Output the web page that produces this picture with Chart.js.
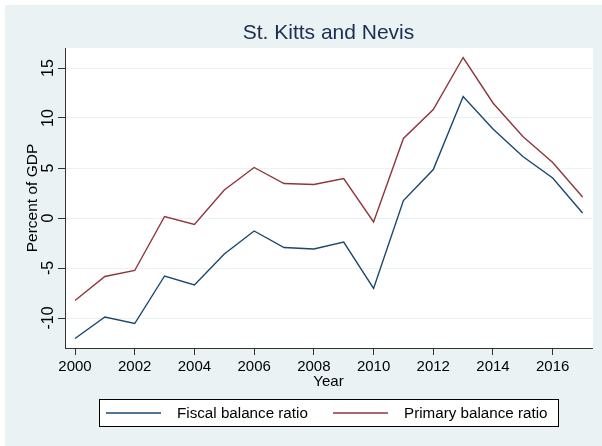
<!DOCTYPE html>
<html>
<head>
<meta charset="utf-8">
<script src="https://cdn.jsdelivr.net/npm/chart.js@4.4.0/dist/chart.umd.min.js"></script>
<style>
html, body { margin: 0; padding: 0; background: #fff; }
#wrap { width: 602px; height: 446px; }
</style>
</head>
<body>
<div id="wrap"><canvas id="chart" width="602" height="446"></canvas></div>
<script>
const titleText = 'St. Kitts and Nevis';
const years = [2000, 2001, 2002, 2003, 2004, 2005, 2006, 2007, 2008, 2009, 2010, 2011, 2012, 2013, 2014, 2015, 2016, 2017];
const fiscalBalance = [-12.05, -9.9, -10.55, -5.8, -6.7, -3.6, -1.3, -2.95, -3.1, -2.4, -7.05, 1.75, 4.85, 12.15, 8.9, 6.15, 4.0, 0.5];
const primaryBalance = [-8.25, -5.85, -5.25, 0.15, -0.65, 2.8, 5.05, 3.45, 3.35, 3.95, -0.4, 7.95, 10.85, 16.05, 11.5, 8.15, 5.55, 2.1];
const xTicks = [2000, 2002, 2004, 2006, 2008, 2010, 2012, 2014, 2016];
const yTicks = [-10, -5, 0, 5, 10, 15];

const navy = '#1a476f';
const maroon = '#90353b';
const bgColor = '#eaf2f3';
const fontFamily = '"Liberation Sans", Arial, sans-serif';

Chart.defaults.font.family = fontFamily;

function toPoints(vals) {
    return years.map((y, i) => ({ x: y, y: vals[i] }));
}

// stata-like frame: background, title, rotated y labels, boxed legend
const stataFrame = {
    id: 'stataFrame',
    beforeDraw(chart) {
        const { ctx, chartArea: a } = chart;
        ctx.save();
        ctx.fillStyle = '#ffffff';
        ctx.fillRect(0, 0, chart.width, chart.height);
        ctx.fillStyle = bgColor;
        ctx.fillRect(5, 5, chart.width - 5, chart.height - 5);
        ctx.fillStyle = '#ffffff';
        ctx.fillRect(a.left, a.top, a.right - a.left + 1, a.bottom - a.top);
        ctx.restore();
    },
    afterDraw(chart) {
        const { ctx, chartArea: a } = chart;
        const yScale = chart.scales.y;
        ctx.save();

        // title, centred over the plot region
        ctx.fillStyle = '#1e2c50';
        ctx.font = '21px ' + fontFamily;
        ctx.textAlign = 'center';
        ctx.textBaseline = 'middle';
        ctx.fillText(titleText, (a.left + a.right) / 2, 33);

        // y tick labels, vertical
        ctx.fillStyle = '#000';
        ctx.font = '16px ' + fontFamily;
        yTicks.forEach(v => {
            const py = yScale.getPixelForValue(v);
            ctx.save();
            ctx.translate(49, py);
            ctx.rotate(-Math.PI / 2);
            ctx.fillText(String(v), 0, 0);
            ctx.restore();
        });

        // legend box
        ctx.fillStyle = '#ffffff';
        ctx.fillRect(99, 399, 459, 28);
        ctx.strokeStyle = '#000';
        ctx.lineWidth = 1;
        ctx.strokeRect(99.5, 399.5, 459, 27);

        const ly = 413;
        const items = [
            { x0: 106, x1: 161, tx: 177 },
            { x0: 333, x1: 388, tx: 404 }
        ];
        ctx.font = '15.2px ' + fontFamily;
        ctx.textAlign = 'left';
        chart.data.datasets.forEach((ds, i) => {
            const it = items[i];
            ctx.strokeStyle = ds.borderColor;
            ctx.lineWidth = 1.4;
            ctx.beginPath();
            ctx.moveTo(it.x0, ly);
            ctx.lineTo(it.x1, ly);
            ctx.stroke();
            ctx.fillStyle = '#000';
            ctx.fillText(ds.label, it.tx, ly + 0.5);
        });
        ctx.restore();
    }
};

new Chart(document.getElementById('chart'), {
    type: 'line',
    data: {
        datasets: [
            {
                label: 'Fiscal balance ratio',
                data: toPoints(fiscalBalance),
                borderColor: navy,
                backgroundColor: navy,
                borderWidth: 1.4,
                pointRadius: 0,
                tension: 0
            },
            {
                label: 'Primary balance ratio',
                data: toPoints(primaryBalance),
                borderColor: maroon,
                backgroundColor: maroon,
                borderWidth: 1.4,
                pointRadius: 0,
                tension: 0
            }
        ]
    },
    options: {
        responsive: false,
        animation: false,
        layout: { padding: { top: 48, right: 10, left: 0, bottom: 0 } },
        plugins: {
            legend: { display: false },
            title: { display: false },
            tooltip: { enabled: false }
        },
        scales: {
            x: {
                type: 'linear',
                min: 1999.665,
                max: 2017.316,
                afterBuildTicks: s => { s.ticks = xTicks.map(v => ({ value: v })); },
                afterFit: s => { s.height = 98; },
                grid: { drawOnChartArea: false, drawTicks: true, tickLength: 7, tickColor: '#333', tickWidth: 1 },
                border: { display: true, color: '#333', width: 1 },
                ticks: {
                    color: '#000',
                    font: { size: 15 },
                    padding: 3,
                    maxRotation: 0,
                    autoSkip: false,
                    callback: v => String(v)
                },
                title: {
                    display: true,
                    text: 'Year',
                    color: '#000',
                    font: { size: 15 },
                    padding: { top: 0, bottom: 55 }
                }
            },
            y: {
                type: 'linear',
                min: -13,
                max: 17,
                afterBuildTicks: s => { s.ticks = yTicks.map(v => ({ value: v })); },
                afterFit: s => { s.width = 65; },
                grid: { color: bgColor, lineWidth: 1, tickColor: '#333', tickLength: 7, drawTicks: true },
                border: { display: true, color: '#333', width: 1 },
                ticks: { display: false },
                title: {
                    display: true,
                    text: 'Percent of GDP',
                    color: '#000',
                    font: { size: 15.5 },
                    padding: { top: 23, bottom: 0 }
                }
            }
        }
    },
    plugins: [stataFrame]
});
</script>
</body>
</html>
